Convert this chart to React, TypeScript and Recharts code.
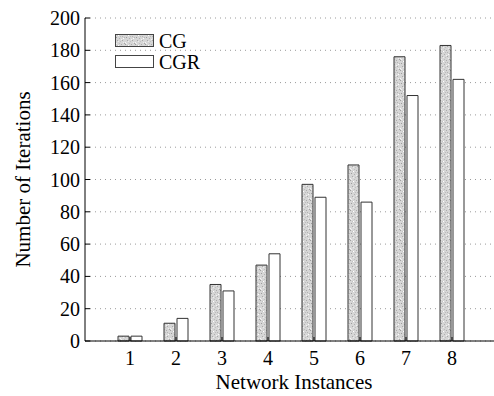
import { BarChart, Bar, XAxis, YAxis, CartesianGrid } from 'recharts';

const instances = ['1', '2', '3', '4', '5', '6', '7', '8'];
const cgIters = [3, 11, 35, 47, 97, 109, 176, 183];
const cgrIters = [3, 14, 31, 54, 89, 86, 152, 162];
const yTicks = [0, 20, 40, 60, 80, 100, 120, 140, 160, 180, 200];

const data = instances.map((name, i) => ({ name, cg: cgIters[i], cgr: cgrIters[i] }));

const FONT = '"Liberation Serif", "Times New Roman", serif';
const X_TICK_MARGIN = 24;

// speckled grey fill, like the printed stipple
const specks: [number, number, string][] = [
  [0, 0, '#a0a0a0'], [3, 1, '#ffffff'], [7, 2, '#b4b4b4'], [1, 3, '#9c9c9c'],
  [8, 4, '#ffffff'], [2, 6, '#aaaaaa'], [5, 7, '#c0c0c0'], [9, 9, '#a4a4a4'],
  [0, 8, '#f6f6f6'], [6, 0, '#ababab'], [4, 4, '#b0b0b0'], [1, 9, '#f0f0f0'],
  [6, 5, '#f2f2f2'], [3, 7, '#eeeeee'], [9, 3, '#b8b8b8'], [5, 2, '#bcbcbc'],
  [8, 8, '#ededed'], [2, 1, '#c4c4c4'], [7, 6, '#a8a8a8'], [4, 9, '#bdbdbd'],
];

function Stipple({ id }: { id: string }) {
  return (
    <pattern id={id} width={10} height={10} patternUnits="userSpaceOnUse">
      <rect width={10} height={10} fill="#d6d6d6" />
      {specks.map(([x, y, c], i) => (
        <rect key={i} x={x} y={y} width={1} height={1} fill={c} />
      ))}
    </pattern>
  );
}

function YTick(props: any) {
  const { x, y, payload } = props;
  return (
    <g>
      <text x={x} y={y} dy="0.35em" textAnchor="end" style={{ fontSize: 20, fontFamily: FONT }} fill="#000">
        {payload.value}
      </text>
      <line x1={x + 5} x2={x + 10} y1={y} y2={y} stroke="#000" />
    </g>
  );
}

function XTick(props: any) {
  const { x, y, payload } = props;
  const axisY = y - X_TICK_MARGIN;
  return (
    <g>
      <text x={x} y={y} textAnchor="middle" style={{ fontSize: 20, fontFamily: FONT }} fill="#000">
        {payload.value}
      </text>
      <line x1={x} x2={x} y1={axisY} y2={axisY - 4} stroke="#000" />
    </g>
  );
}

function TopTick(props: any) {
  const { x, y } = props;
  return <line x1={x} x2={x} y1={y} y2={y + 4} stroke="#000" />;
}

function LegendBox({ stipple }: { stipple: boolean }) {
  return (
    <svg width={40} height={14} style={{ display: 'block' }}>
      {stipple && (
        <defs>
          <Stipple id="legendStipple" />
        </defs>
      )}
      <rect x={0.5} y={0.5} width={38} height={12} fill={stipple ? 'url(#legendStipple)' : '#fff'} stroke="#444" />
    </svg>
  );
}

export default function App() {
  return (
    <div style={{ position: 'absolute', left: 0, top: 0, width: 494, height: 396, overflow: 'hidden', background: '#fff' }}>
      <BarChart
        width={510}
        height={396}
        data={data}
        margin={{ top: 18, right: 13, bottom: 0, left: 0 }}
        barSize={11}
        barGap={2}
      >
        <defs>
          <Stipple id="cgStipple" />
        </defs>
        <CartesianGrid vertical={false} stroke="#9a9a9a" strokeDasharray="1 4" />
        <XAxis
          dataKey="name"
          height={55}
          padding={{ left: 22, right: 22 }}
          axisLine={{ stroke: '#000' }}
          tickLine={false}
          tickSize={0}
          tickMargin={X_TICK_MARGIN}
          tick={<XTick />}
          interval={0}
          label={{
            content: (p: any) => {
              const vb = p.viewBox;
              return (
                <text x={vb.x + vb.width / 2 + 3} y={vb.y + 48} textAnchor="middle" style={{ fontSize: 21, fontFamily: FONT }} fill="#000">
                  Network Instances
                </text>
              );
            },
          }}
        />
        <XAxis
          xAxisId="top"
          orientation="top"
          dataKey="name"
          height={0}
          padding={{ left: 22, right: 22 }}
          axisLine={{ stroke: '#000' }}
          tickLine={false}
          tickSize={0}
          tickMargin={0}
          tick={<TopTick />}
          interval={0}
        />
        <YAxis
          width={85}
          domain={[0, 200]}
          ticks={yTicks}
          interval={0}
          axisLine={{ stroke: '#000' }}
          tickLine={false}
          tickSize={0}
          tickMargin={5}
          tick={<YTick />}
          label={{
            content: (p: any) => {
              const vb = p.viewBox;
              const cx = vb.x + 30;
              const cy = vb.y + vb.height / 2;
              return (
                <text x={cx} y={cy} transform={`rotate(-90, ${cx}, ${cy})`} textAnchor="middle" style={{ fontSize: 21, fontFamily: FONT }} fill="#000">
                  Number of Iterations
                </text>
              );
            },
          }}
        />
        <Bar dataKey="cg" name="CG" fill="url(#cgStipple)" stroke="#333" strokeWidth={1} isAnimationActive={false} />
        <Bar dataKey="cgr" name="CGR" fill="#fff" stroke="#333" strokeWidth={1} isAnimationActive={false} />
      </BarChart>
      <div style={{ position: 'absolute', left: 115, top: 31, fontFamily: FONT, fontSize: 20, lineHeight: '20px', color: '#000' }}>
        <div style={{ display: 'flex', alignItems: 'center', height: 20, marginBottom: 1 }}>
          <LegendBox stipple />
          <span style={{ marginLeft: 4 }}>CG</span>
        </div>
        <div style={{ display: 'flex', alignItems: 'center', height: 20 }}>
          <LegendBox stipple={false} />
          <span style={{ marginLeft: 4 }}>CGR</span>
        </div>
      </div>
    </div>
  );
}
